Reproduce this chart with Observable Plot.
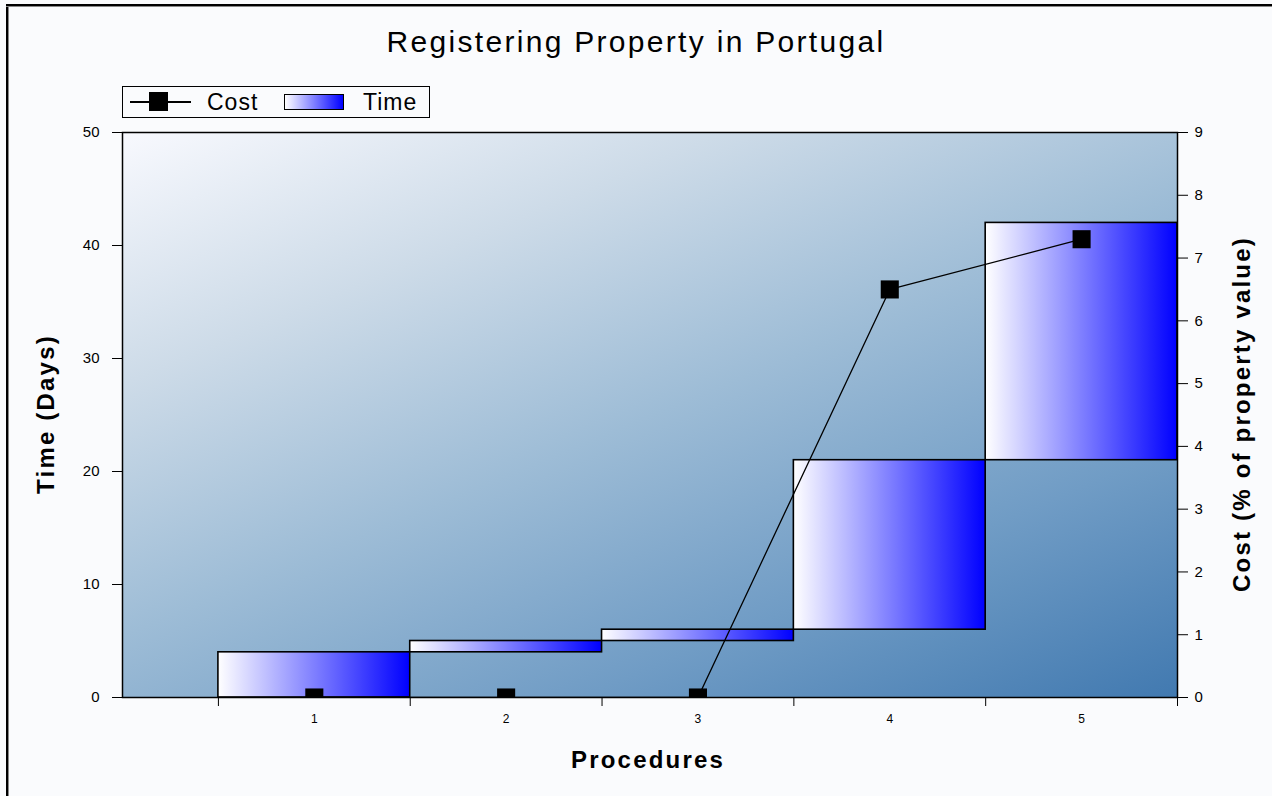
<!DOCTYPE html>
<html><head><meta charset="utf-8">
<script src="https://cdn.jsdelivr.net/npm/d3@7"></script>
<script src="https://cdn.jsdelivr.net/npm/@observablehq/plot@0.6"></script>
<style>
html,body{margin:0;padding:0;background:#fafbfd;}
#wrap{position:relative;width:1272px;height:796px;overflow:hidden;background:#fafbfd;font-family:"Liberation Sans",Arial,sans-serif;color:#000;}
#frameL{position:absolute;left:6px;top:4px;width:2px;height:800px;background:#000;box-shadow:1px 0 0 #888;}
#frameT{position:absolute;left:6px;top:4px;width:1280px;height:2px;background:#000;box-shadow:0 1px 0 #888;}
#chart{position:absolute;left:0;top:0;}
.title{position:absolute;left:0;width:1272px;top:25px;text-align:center;font-size:30px;letter-spacing:2.3px;line-height:34px;}
.axlab{position:absolute;font-size:24px;font-weight:bold;letter-spacing:2.2px;white-space:nowrap;line-height:26px;}
#legend{position:absolute;left:122px;top:86px;width:308px;height:32px;border:1.5px solid #000;background:#fafbfd;box-sizing:border-box;}
.lg-line{position:absolute;left:7px;top:14px;width:61px;height:1.5px;background:#000;}
.lg-sq{position:absolute;left:26px;top:5px;width:19px;height:19px;background:#000;}
.lg-txt{position:absolute;top:1px;font-size:23px;line-height:28px;letter-spacing:1px;}
.lg-sw{position:absolute;left:161px;top:7px;width:60px;height:16px;border:1.5px solid #000;box-sizing:border-box;background:linear-gradient(to right,#ffffff,#0000ff);}
</style>
</head><body>
<div id="wrap">
  <div id="frameL"></div><div id="frameT"></div>
  <div id="chart"></div>
  <div class="title">Registering Property in Portugal</div>
  <div id="legend">
    <div class="lg-line"></div><div class="lg-sq"></div>
    <div class="lg-txt" style="left:84px">Cost</div>
    <div class="lg-sw"></div>
    <div class="lg-txt" style="left:240px">Time</div>
  </div>
  <div class="axlab" id="ylabL">Time (Days)</div>
  <div class="axlab" id="ylabR">Cost (% of property value)</div>
  <div class="axlab" id="xlab">Procedures</div>
</div>
<script>
// ---- data ----
const procedures = [1, 2, 3, 4, 5];
const timeDays = [4, 1, 1, 15, 21];          // duration of each procedure (days)
const costPct = [0, 0, 0, 6.5, 7.3];         // cumulative cost (% of property value)
const timeTicks = [0, 10, 20, 30, 40, 50];
const costTicks = [0, 1, 2, 3, 4, 5, 6, 7, 8, 9];
const bandEdges = [0.5, 1.5, 2.5, 3.5, 4.5, 5.5];

const timeMax = 50, costMax = 9;
const k = timeMax / costMax;

let acc = 0;
const rows = procedures.map((p, i) => {
  const start = acc; acc += timeDays[i];
  return {p, start, end: acc, cost: costPct[i]};
});

const plot = Plot.plot({
  width: 1272, height: 796,
  marginTop: 132, marginBottom: 99, marginLeft: 122, marginRight: 95,
  x: {domain: [0, 5.5]},
  y: {domain: [0, timeMax]},
  style: {background: "transparent", fontFamily: "Liberation Sans, Arial, sans-serif", fontSize: "15px", color: "#000", overflow: "visible"},
  marks: [
    Plot.frame({fill: "url(#bgGrad)"}),
    Plot.rect(rows, {x1: d => d.p - 0.5, x2: d => d.p + 0.5, y1: "start", y2: "end",
      fill: "url(#barGrad)", stroke: "#000", strokeWidth: 1.6}),
    Plot.line(rows, {x: "p", y: d => d.cost * k, stroke: "#000", strokeWidth: 1.3, clip: true}),
    Plot.dot(rows, {x: "p", y: d => d.cost * k, symbol: "square", r: 10.2, fill: "#000", stroke: "none", clip: true}),
    Plot.frame({stroke: "#000", strokeWidth: 1.5}),
    Plot.axisY(timeTicks, {anchor: "left", tickSize: 10, tickPadding: 13, label: null, fontSize: 15,
      tickFormat: d => String(d)}),
    Plot.axisY(costTicks.map(c => c * k), {anchor: "right", tickSize: 10, tickPadding: 7, label: null, fontSize: 15,
      tickFormat: d => String(Math.round(d / k))}),
    Plot.axisX(bandEdges, {tickSize: 9, tickFormat: () => "", label: null}),
    Plot.axisX(procedures, {tickSize: 0, tickPadding: 17, label: null, fontSize: 12, tickFormat: d => String(d)})
  ]
});

const svg = d3.select(plot);
const defs = svg.insert("defs", ":first-child");
const bg = defs.append("linearGradient").attr("id", "bgGrad")
  .attr("gradientUnits", "userSpaceOnUse")
  .attr("x1", 122).attr("y1", 132).attr("x2", 480).attr("y2", 990);
[[0, "#f8f9fe"], [0.25, "#cddbe8"], [0.5, "#9dbcd6"], [0.75, "#709cc5"], [1, "#4179b0"]]
  .forEach(([o, c]) => bg.append("stop").attr("offset", o).attr("stop-color", c));
const bar = defs.append("linearGradient").attr("id", "barGrad")
  .attr("x1", 0).attr("y1", 0).attr("x2", 1).attr("y2", 0);
[[0, "#ffffff"], [1, "#0000ff"]]
  .forEach(([o, c]) => bar.append("stop").attr("offset", o).attr("stop-color", c));

// clip markers and line to the plot area
const cp = defs.append("clipPath").attr("id", "plotClip");
cp.append("rect").attr("x", 122).attr("y", 132).attr("width", 1272 - 122 - 95).attr("height", 796 - 132 - 99);
svg.selectAll("g[aria-label='dot'], g[aria-label='line']").attr("clip-path", "url(#plotClip)");

document.getElementById("chart").appendChild(plot);

// axis titles placement
function place(id, cx, cy, rot) {
  const el = document.getElementById(id);
  const w = el.offsetWidth, h = el.offsetHeight;
  el.style.left = (cx - w / 2) + "px";
  el.style.top = (cy - h / 2) + "px";
  if (rot) el.style.transform = "rotate(" + rot + "deg)";
}
place("ylabL", 46, 414, -90);
place("ylabR", 1242, 414, -90);
place("xlab", 648, 760, 0);
</script>
</body></html>
